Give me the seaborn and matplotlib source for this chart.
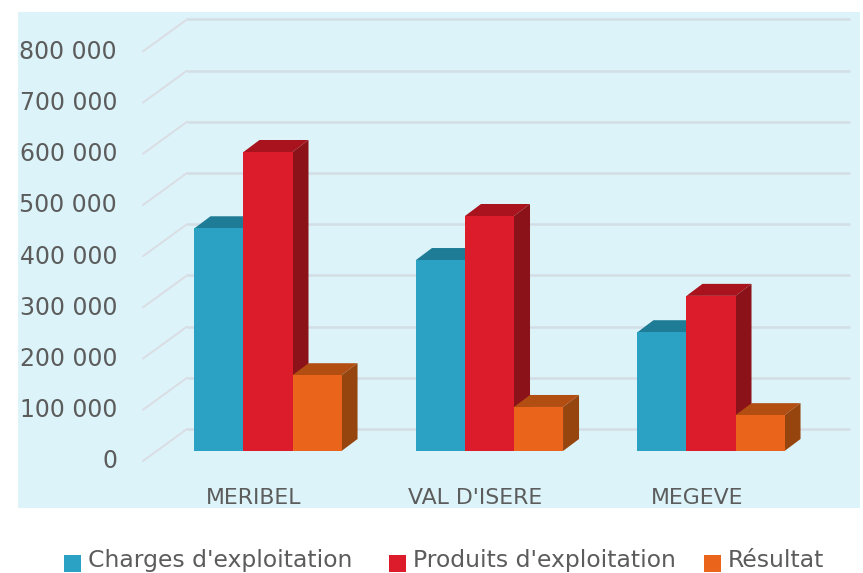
import matplotlib
matplotlib.use("Agg")
import matplotlib.pyplot as plt
from matplotlib.patches import Polygon, Rectangle
from matplotlib.legend_handler import HandlerPatch
from matplotlib.transforms import ScaledTranslation
import seaborn as sns
import pandas as pd

sites = ["MERIBEL", "VAL D'ISERE", "MEGEVE"]
series = ["Charges d'exploitation", "Produits d'exploitation", "Résultat"]
charges = [435000, 373000, 232000]
produits = [584000, 459000, 303000]
resultat = [148000, 86000, 70000]
yticks = [0, 100000, 200000, 300000, 400000, 500000, 600000, 700000, 800000]

front_colors = ["#2ba2c3", "#dc1c2a", "#ea651b"]
top_colors = ["#1f7c96", "#a8131d", "#b24e12"]
side_colors = ["#1a6a80", "#8b1218", "#96450f"]
text_color = "#5c5c5c"

df = pd.DataFrame({"site": sites * 3,
                   "serie": [series[0]] * 3 + [series[1]] * 3 + [series[2]] * 3,
                   "value": charges + produits + resultat})

sns.set_theme(style="white")
plt.rcParams["font.family"] = ["DejaVu Sans"]

W, H = 863, 573
fig = plt.figure(figsize=(W / 100, H / 100), dpi=100)
ax = fig.add_axes([18 / W, (H - 508) / H, 842 / W, 496 / H])  # the pale blue panel

sns.barplot(data=df, x="site", y="value", hue="serie", hue_order=series, palette=front_colors,
            saturation=1, width=0.664, gap=0, dodge=True, ax=ax, zorder=4, linewidth=0)

# one category = 221.5 px, 100 000 = 51.2 px, used for the fake 3d offsets
px_x = 1 / 221.5
px_y = 100000 / 51.2
ax.set_xlim((18 - 268) * px_x, (860 - 268) * px_x)
ax.set_ylim(-57 * px_y, 439 * px_y)
ax.set_facecolor("#dcf4f9")
sns.despine(ax=ax, left=True, bottom=True)

# back wall grid + diagonal on the left wall
for v in yticks:
    ax.plot([(187 - 268) * px_x, (850 - 268) * px_x], [v + 22 * px_y, v + 22 * px_y],
            color="#d3dde4", lw=1.8, zorder=1, solid_capstyle="butt")
    ax.plot([(143 - 268) * px_x, (187 - 268) * px_x], [v - 10 * px_y, v + 22 * px_y],
            color="#dadde3", lw=1.4, zorder=1)

# depth of each bar
dx = 16 * px_x
dy = 12 * px_y
for i, cont in enumerate(ax.containers):
    for bar in cont:
        x0 = bar.get_x()
        x1 = x0 + bar.get_width()
        top = bar.get_height()
        ax.add_patch(Polygon([(x0, top), (x1, top), (x1 + dx, top + dy), (x0 + dx, top + dy)],
                             closed=True, fc=top_colors[i], lw=0, zorder=2 + i * 0.1))
        ax.add_patch(Polygon([(x1, 0), (x1 + dx, dy), (x1 + dx, top + dy), (x1, top)],
                             closed=True, fc=side_colors[i], lw=0, zorder=2 + i * 0.1))

ax.set_xlabel("")
ax.set_ylabel("")
ax.set_yticks(yticks)
ax.set_yticklabels([f"{v:,}".replace(",", " ") for v in yticks], fontsize=17, color=text_color)
ax.tick_params(axis="y", length=0, pad=-99 * 0.72)
ax.tick_params(axis="x", length=0, pad=-20 * 0.72, labelsize=15.8, labelcolor=text_color)

down = ScaledTranslation(0, -8 / 100, fig.dpi_scale_trans)
for lab in ax.get_yticklabels():
    lab.set_transform(lab.get_transform() + down)
left = ScaledTranslation(-14 / 100, 0, fig.dpi_scale_trans)
for lab in ax.get_xticklabels():
    lab.set_transform(lab.get_transform() + left)


def low_square(legend, orig_handle, xdescent, ydescent, width, height, fontsize):
    # squares sit 5 px under the text baseline in the original
    return Rectangle((-xdescent, -ydescent - 3.6), width, height)


handles, labels = ax.get_legend_handles_labels()
legend_opts = dict(loc="lower left", bbox_transform=fig.transFigure, frameon=False, fontsize=16.9,
                   labelcolor=text_color, handlelength=0.72, handleheight=0.72, handletextpad=0.3,
                   borderpad=0, borderaxespad=0,
                   handler_map={type(handles[0]): HandlerPatch(patch_func=low_square)})
# gaps between entries are uneven in the original, so two legends
first = ax.legend(handles[:2], labels[:2], bbox_to_anchor=(64 / W, 1 / H), ncol=2, columnspacing=1.57, **legend_opts)
ax.add_artist(first)
ax.legend(handles[2:], labels[2:], bbox_to_anchor=(704 / W, 1 / H), **legend_opts)

fig.savefig("out.png", dpi=100)
